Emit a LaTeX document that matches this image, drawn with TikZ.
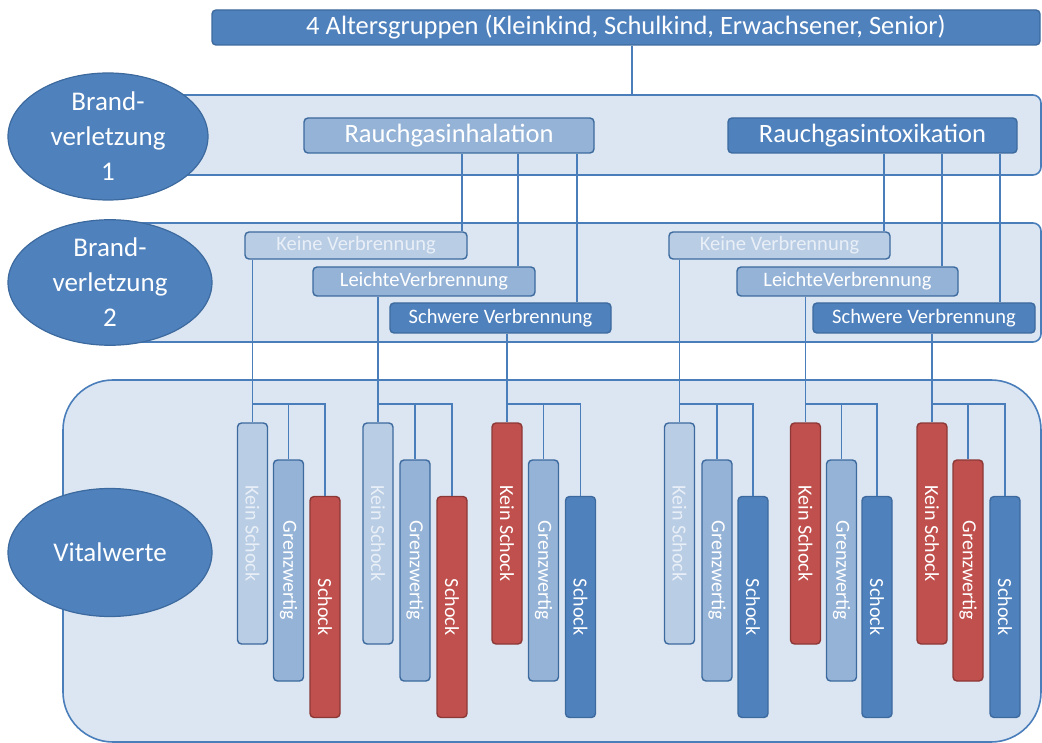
\documentclass[tikz,border=0pt]{standalone}
\usepackage{fontspec}
\setmainfont{Carlito}
\usetikzlibrary{shapes.geometric}
\definecolor{dblue}{HTML}{4F81BD}
\definecolor{mblue}{HTML}{95B3D7}
\definecolor{lblue}{HTML}{B9CDE5}
\definecolor{bandfill}{HTML}{DCE6F2}
\definecolor{edge}{HTML}{3D6A9E}
\definecolor{wire}{HTML}{4A7EBB}
\definecolor{redfill}{HTML}{C0504D}
\definecolor{rededge}{HTML}{8C3836}
\definecolor{paletext}{HTML}{E9EFF7}
\tikzset{
  band/.style={draw=wire, fill=bandfill, line width=1.6pt},
  oval/.style={ellipse, draw=edge, fill=dblue, line width=1.2pt, text=white, align=center, inner sep=0pt, font=\fontsize{27}{35}\selectfont},
  hbox/.style={draw=edge, line width=1.4pt, rounded corners=4pt, inner sep=0pt, text=white},
  big/.style={hbox, minimum height=35pt, font=\fontsize{26.5}{28}\selectfont},
  small/.style={hbox, font=\fontsize{20.5}{22}\selectfont},
  bar/.style={draw=edge, line width=1.4pt, rounded corners=4pt, inner sep=0pt, minimum width=30pt, minimum height=221pt, text=white, font=\fontsize{20}{22}\selectfont},
  redbar/.style={bar, draw=rededge, fill=redfill},
  wirec/.style={draw=wire, line width=1.6pt},
}
\newcommand{\vt}[1]{\rotatebox{-90}{#1}}
\begin{document}
\begin{tikzpicture}[x=1pt,y=-1pt]
\useasboundingbox (0,0) rectangle (1042,743);
% bands
\draw[band, rounded corners=50pt] (63,380) rectangle (1041,742);
\draw[band, rounded corners=8pt] (100,223) rectangle (1041,342);
\draw[band, rounded corners=8pt] (100,95) rectangle (1041,175);
% ellipses
\node[oval, minimum width=200pt, minimum height=127pt] (e1) at (108,136.5) {Brand-\\verletzung\\1};
\node[oval, minimum width=204pt, minimum height=125pt] (e2) at (110,282.5) {Brand-\\verletzung\\2};
\node[oval, minimum width=204pt, minimum height=128pt] (e3) at (110,552.5) {Vitalwerte};
% top
\node[big, fill=dblue, minimum width=828pt] (top) at (626,27.5) {4 Altersgruppen (Kleinkind, Schulkind, Erwachsener, Senior)};
\coordinate (b1top) at (632,95);
\draw[wirec] (top.south -| b1top) -- (b1top);
% level 1
\node[big, fill=mblue, minimum width=290pt] (inh) at (449,135.5) {Rauchgasinhalation};
\node[big, fill=dblue, minimum width=289pt] (itx) at (872.5,135.5) {Rauchgasintoxikation};
% level 2
\node[small, fill=lblue, text=paletext, minimum width=222pt, minimum height=27pt] (kv1) at (356,245.5) {Keine Verbrennung};
\node[small, fill=mblue, minimum width=222pt, minimum height=29pt] (lv1) at (424,281.5) {LeichteVerbrennung};
\node[small, fill=dblue, minimum width=221pt, minimum height=30pt] (sv1) at (500.5,318) {Schwere Verbrennung};
\node[small, fill=lblue, text=paletext, minimum width=221pt, minimum height=27pt] (kv2) at (779.5,245.5) {Keine Verbrennung};
\node[small, fill=mblue, minimum width=221pt, minimum height=29pt] (lv2) at (847.5,281.5) {LeichteVerbrennung};
\node[small, fill=dblue, minimum width=222pt, minimum height=30pt] (sv2) at (924,318) {Schwere Verbrennung};
% connectors level1 -> level2
\draw[wirec] (inh.south -| 462,0) -- (kv1.north -| 462,0);
\draw[wirec] (inh.south -| 518,0) -- (lv1.north -| 518,0);
\draw[wirec] (inh.south -| 577,0) -- (sv1.north -| 577,0);
\draw[wirec] (itx.south -| 884,0) -- (kv2.north -| 884,0);
\draw[wirec] (itx.south -| 942,0) -- (lv2.north -| 942,0);
\draw[wirec] (itx.south -| 1000,0) -- (sv2.north -| 1000,0);
% bars
\node[bar, fill=lblue, text=paletext] (k1) at (252.5,533.5) {\vt{Kein Schock}};
\node[bar, fill=mblue] (g1) at (288.5,570.5) {\vt{Grenzwertig}};
\node[redbar] (s1) at (325,607) {\vt{Schock}};
\node[bar, fill=lblue, text=paletext] (k2) at (378,533.5) {\vt{Kein Schock}};
\node[bar, fill=mblue] (g2) at (415,570.5) {\vt{Grenzwertig}};
\node[redbar] (s2) at (452,607) {\vt{Schock}};
\node[redbar] (k3) at (507,533.5) {\vt{Kein Schock}};
\node[bar, fill=mblue] (g3) at (543.5,570.5) {\vt{Grenzwertig}};
\node[bar, fill=dblue] (s3) at (580.5,607) {\vt{Schock}};
\node[bar, fill=lblue, text=paletext] (k4) at (679.5,533.5) {\vt{Kein Schock}};
\node[bar, fill=mblue] (g4) at (717,570.5) {\vt{Grenzwertig}};
\node[bar, fill=dblue] (s4) at (753,607) {\vt{Schock}};
\node[redbar] (k5) at (805.5,533.5) {\vt{Kein Schock}};
\node[bar, fill=mblue] (g5) at (841.5,570.5) {\vt{Grenzwertig}};
\node[bar, fill=dblue] (s5) at (877,607) {\vt{Schock}};
\node[redbar] (k6) at (932,533.5) {\vt{Kein Schock}};
\node[redbar] (g6) at (968,570.5) {\vt{Grenzwertig}};
\node[bar, fill=dblue] (s6) at (1005,607) {\vt{Schock}};
% connectors level2 -> bars
\foreach \p/\k/\g/\s in {kv1/k1/g1/s1, lv1/k2/g2/s2, sv1/k3/g3/s3, kv2/k4/g4/s4, lv2/k5/g5/s5, sv2/k6/g6/s6}{
  \coordinate (hj) at (\k.north |- 0,404);
  \draw[wirec] (\p.south -| \k.north) -- (\k.north);
  \draw[wirec] (hj) -| (\s.north);
  \draw[wirec] (\g.north |- hj) -- (\g.north);
}
\end{tikzpicture}
\end{document}
